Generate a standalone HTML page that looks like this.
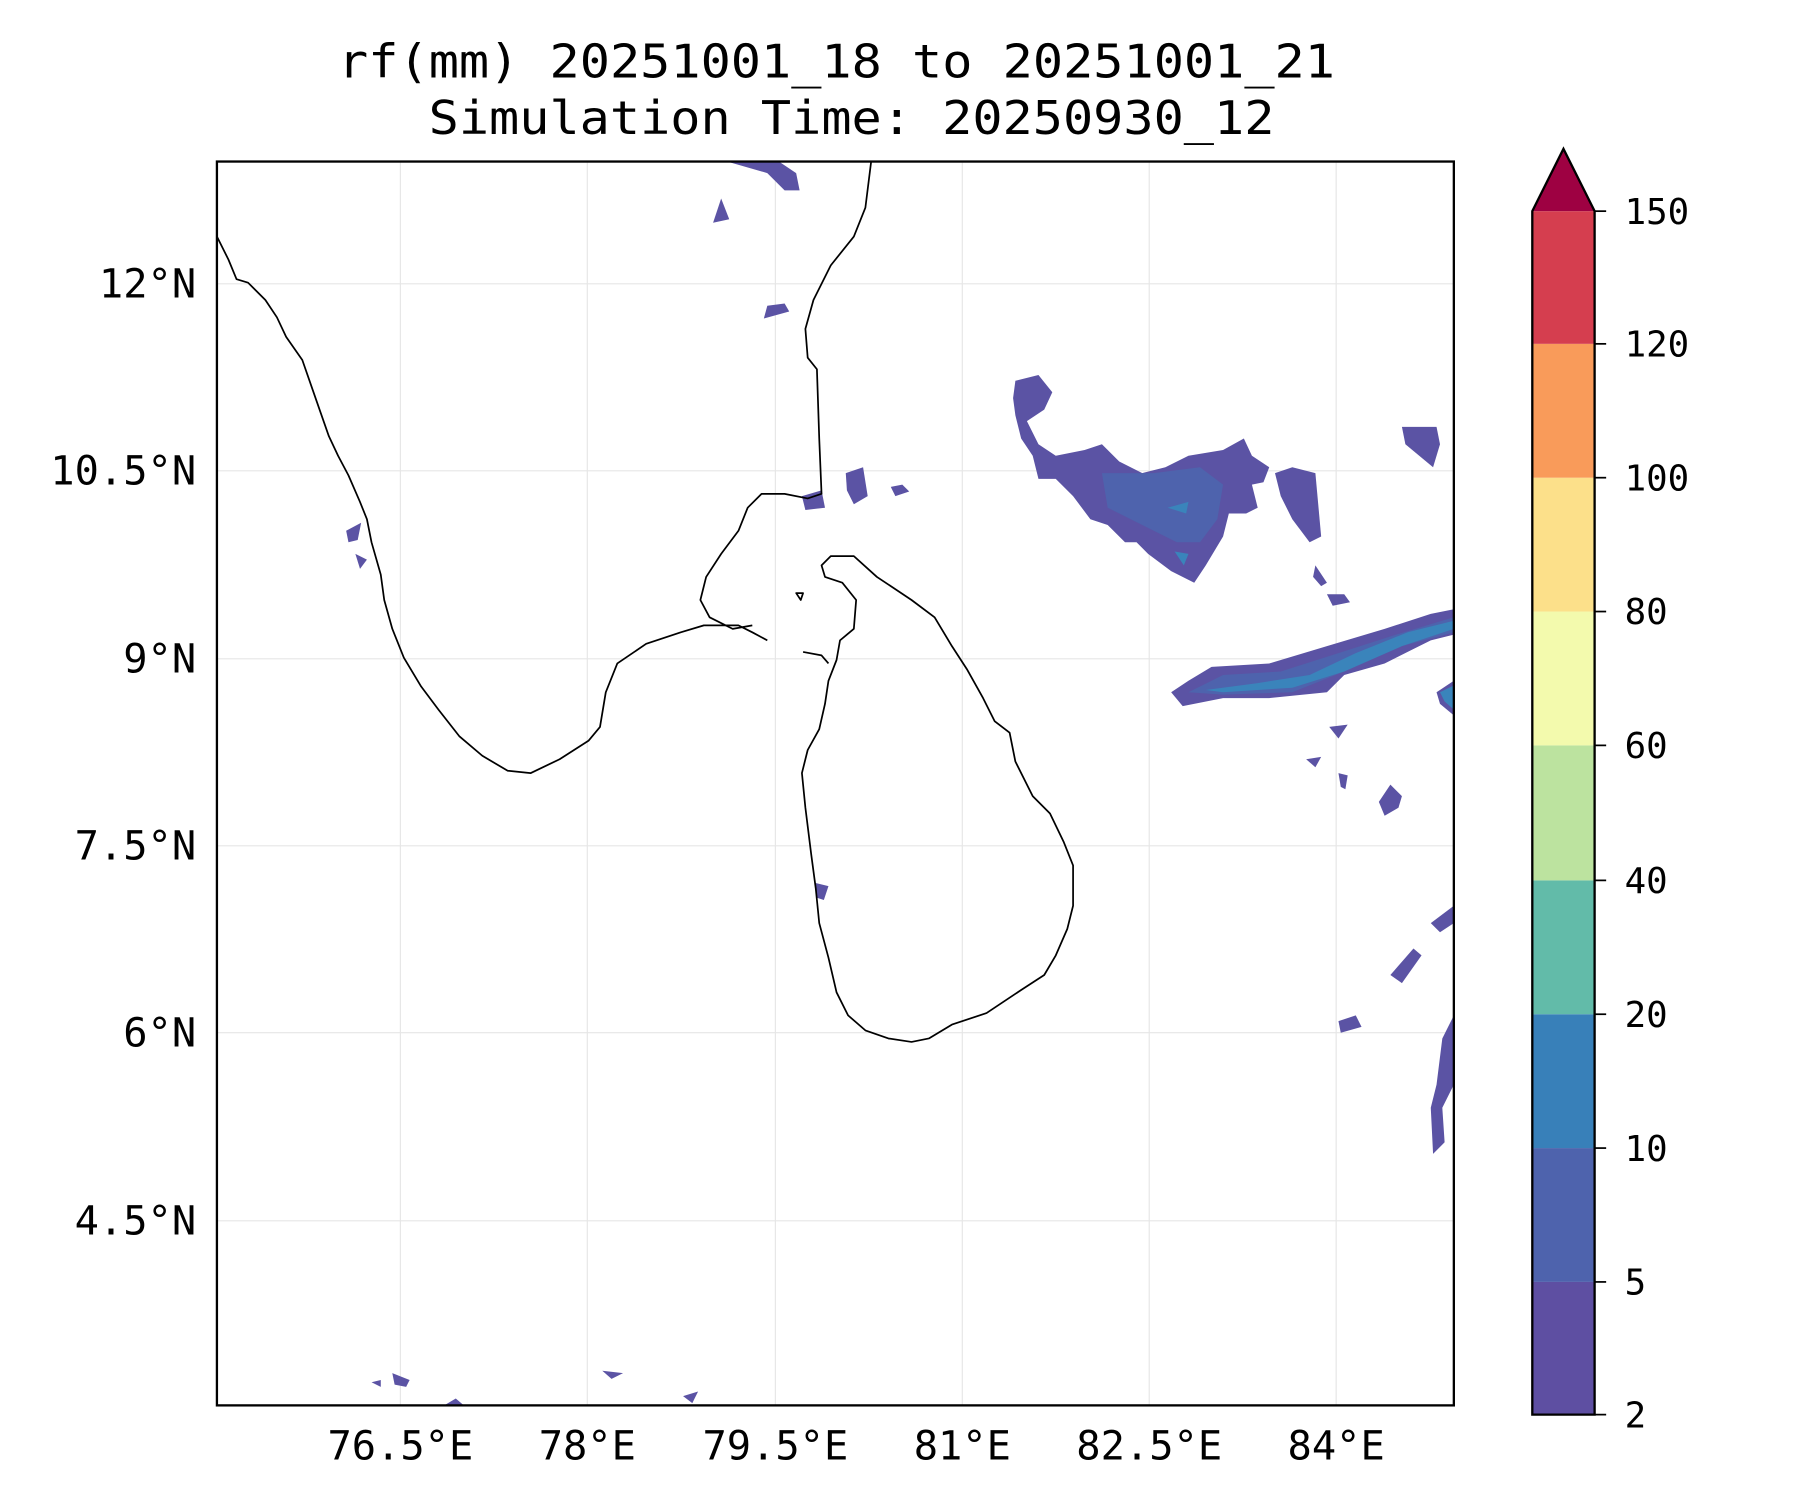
<!DOCTYPE html>
<html><head><meta charset="utf-8"><style>html,body{margin:0;padding:0;background:#fff}svg{display:block}</style></head>
<body>
<svg width="1800" height="1500" viewBox="0 0 1560 1300" xmlns="http://www.w3.org/2000/svg" font-family="'DejaVu Sans Mono','Liberation Mono',monospace">
<rect width="1560" height="1300" fill="#fff"/>
<text x="725" y="67" font-size="40" text-anchor="middle" textLength="864" lengthAdjust="spacingAndGlyphs">rf(mm) 20251001_18 to 20251001_21</text>
<text x="738" y="116" font-size="40" text-anchor="middle" textLength="733" lengthAdjust="spacingAndGlyphs">Simulation Time: 20250930_12</text>
<g stroke="#e6e6e6" stroke-width="1">
<line x1="347" y1="140" x2="347" y2="1218"/><line x1="509" y1="140" x2="509" y2="1218"/><line x1="672" y1="140" x2="672" y2="1218"/><line x1="834" y1="140" x2="834" y2="1218"/><line x1="996" y1="140" x2="996" y2="1218"/><line x1="1158" y1="140" x2="1158" y2="1218"/>
<line x1="188" y1="246" x2="1260" y2="246"/><line x1="188" y1="408" x2="1260" y2="408"/><line x1="188" y1="571" x2="1260" y2="571"/><line x1="188" y1="733" x2="1260" y2="733"/><line x1="188" y1="895" x2="1260" y2="895"/><line x1="188" y1="1058" x2="1260" y2="1058"/>
</g>
<g fill="#5b53a4">
<path d="M880,330 L900,325 L912,340 L905,355 L890,365 L900,385 L915,395 L940,390 L955,385 L970,400 L990,410 L1010,405 L1030,395 L1060,390 L1078,380 L1085,395 L1100,405 L1095,418 L1085,420 L1090,440 L1080,445 L1065,445 L1060,465 L1045,490 L1035,505 L1015,495 L995,480 L985,470 L975,470 L960,455 L945,450 L930,430 L915,415 L900,415 L895,395 L885,380 L880,360 L878,345Z"/>
<path d="M1105,410 L1120,405 L1140,410 L1145,465 L1135,470 L1120,450 L1110,430Z"/>
<path d="M1015,600 L1030,590 L1050,578 L1100,575 L1150,560 L1200,545 L1240,532 L1260,528 L1260,550 L1240,555 L1220,565 L1200,575 L1165,585 L1150,600 L1100,605 L1060,605 L1025,612Z"/>
<path d="M1215,370 L1245,370 L1248,385 L1242,405 L1230,395 L1218,385Z"/>
<path d="M733,410 L748,405 L752,430 L740,437 L734,425Z"/>
<path d="M630,140 L675,140 L690,150 L693,165 L680,165 L665,150Z"/>
<path d="M625,172 L632,190 L618,193Z"/>
<path d="M665,265 L680,263 L684,270 L662,276Z"/>
<path d="M772,422 L782,420 L788,426 L776,430Z"/>
<path d="M1245,600 L1260,590 L1260,620 L1248,610Z"/>
<path d="M1205,680 L1215,690 L1212,700 L1200,707 L1195,695Z"/>
<path d="M1240,800 L1260,785 L1260,800 L1248,808Z"/>
<path d="M1205,845 L1225,822 L1232,828 L1215,852Z"/>
<path d="M1160,885 L1175,880 L1180,890 L1162,895Z"/>
<path d="M1250,900 L1260,880 L1260,940 L1250,960 L1252,990 L1242,1000 L1240,960 L1245,940Z"/>
<path d="M1152,630 L1168,628 L1160,640Z"/>
<path d="M1140,490 L1150,505 L1145,508 L1138,500Z"/>
<path d="M1150,515 L1165,515 L1170,522 L1155,525Z"/>
<path d="M1132,658 L1145,656 L1140,665Z"/>
<path d="M1160,670 L1168,672 L1166,684 L1162,682Z"/>
<path d="M340,1190 L355,1196 L352,1202 L342,1200Z"/>
<path d="M322,1198 L330,1196 L330,1202Z"/>
<path d="M522,1188 L540,1190 L530,1195Z"/>
<path d="M592,1210 L605,1206 L600,1216Z"/>
<path d="M385,1218 L395,1212 L402,1218Z"/>
<path d="M300,460 L313,453 L310,468 L302,470Z"/>
<path d="M308,480 L318,485 L312,493Z"/>
<path d="M706,765 L718,768 L714,780 L708,778Z"/>
<path d="M695,430 L712,425 L715,440 L698,442Z"/>
</g>
<g fill="#4e63ad">
<path d="M955,410 L1000,410 L1040,405 L1060,420 L1055,450 L1040,470 L1020,470 L990,455 L960,440Z"/>
<path d="M1030,600 L1060,585 L1110,582 L1160,566 L1210,550 L1260,535 L1260,548 L1215,560 L1165,582 L1120,600 L1060,602Z"/>
</g>
<g fill="#3a84bb">
<path d="M1045,598 L1090,592 L1135,585 L1175,566 L1220,548 L1260,538 L1260,545 L1215,560 L1165,582 L1120,596 L1060,600Z"/>
<path d="M1248,600 L1260,594 L1260,615 L1252,608Z"/>
<path d="M1012,440 L1030,435 L1028,445Z"/>
<path d="M1018,478 L1030,480 L1026,490Z"/>
</g>
<g fill="none" stroke="#000" stroke-width="1.5" stroke-linejoin="round">
<path d="M188,205 L198,225 L205,242 L215,245 L230,260 L240,275 L248,292 L262,312 L270,335 L278,358 L285,378 L293,395 L302,412 L312,435 L318,450 L322,470 L330,498 L333,520 L340,545 L350,570 L365,595 L380,615 L398,638 L418,655 L440,668 L460,670 L485,658 L510,642 L520,630 L525,600 L535,575 L560,558 L590,548 L610,542 L640,542 L652,548 L665,555"/>
<path d="M652,542 L635,545 L615,535 L607,520 L612,500 L625,480 L640,460 L648,440 L660,428 L680,428 L700,432 L712,428 L710,380 L708,320 L700,310 L698,285 L705,260 L720,230 L740,205 L750,180 L755,140"/>
<path d="M712,490 L720,482 L740,482 L760,500 L790,520 L810,535 L825,560 L838,580 L852,605 L862,625 L875,635 L880,660 L895,690 L910,705 L922,730 L930,750 L930,785 L925,805 L915,828 L905,845 L885,858 L855,878 L825,888 L805,900 L790,903 L770,900 L750,893 L735,880 L725,860 L718,830 L710,800 L707,770 L703,740 L698,700 L695,670 L700,650 L710,632 L715,610 L718,590 L725,572 L728,555 L740,545 L742,520 L730,505 L715,500Z"/>
<path d="M696,565 L712,568 L718,575"/>
<path d="M690,514 L696,514 L694,520Z"/>
</g>
<rect x="188" y="140" width="1072" height="1078" fill="none" stroke="#000" stroke-width="2"/>
<g font-size="35" text-anchor="end">
<text x="170" y="258">12°N</text><text x="170" y="420">10.5°N</text><text x="170" y="583">9°N</text><text x="170" y="745">7.5°N</text><text x="170" y="907">6°N</text><text x="170" y="1070">4.5°N</text>
</g>
<g font-size="35" text-anchor="middle">
<text x="347" y="1265">76.5°E</text><text x="509" y="1265">78°E</text><text x="672" y="1265">79.5°E</text><text x="834" y="1265">81°E</text><text x="996" y="1265">82.5°E</text><text x="1158" y="1265">84°E</text>
</g>
<rect x="1328" y="1111" width="54" height="115" fill="#5e4fa2"/>
<rect x="1328" y="995" width="54" height="116" fill="#4e63ad"/>
<rect x="1328" y="879" width="54" height="116" fill="#3880b9"/>
<rect x="1328" y="763" width="54" height="116" fill="#62bba9"/>
<rect x="1328" y="646" width="54" height="117" fill="#bce39f"/>
<rect x="1328" y="530" width="54" height="116" fill="#f3faad"/>
<rect x="1328" y="414" width="54" height="116" fill="#fce08a"/>
<rect x="1328" y="298" width="54" height="116" fill="#f99b5a"/>
<rect x="1328" y="183" width="54" height="115" fill="#d53e4f"/>
<path d="M1328,183 L1355,129 L1382,183Z" fill="#9e0142"/>
<path d="M1328,1226 L1328,183 L1355,129 L1382,183 L1382,1226Z" fill="none" stroke="#000" stroke-width="2"/>
<g stroke="#000" stroke-width="1.5">
<line x1="1382" y1="183" x2="1392" y2="183"/><line x1="1382" y1="298" x2="1392" y2="298"/><line x1="1382" y1="414" x2="1392" y2="414"/><line x1="1382" y1="530" x2="1392" y2="530"/><line x1="1382" y1="646" x2="1392" y2="646"/><line x1="1382" y1="763" x2="1392" y2="763"/><line x1="1382" y1="879" x2="1392" y2="879"/><line x1="1382" y1="995" x2="1392" y2="995"/><line x1="1382" y1="1111" x2="1392" y2="1111"/><line x1="1382" y1="1226" x2="1392" y2="1226"/>
</g>
<g font-size="31">
<text x="1408" y="194">150</text><text x="1408" y="309">120</text><text x="1408" y="425">100</text><text x="1408" y="541">80</text><text x="1408" y="657">60</text><text x="1408" y="774">40</text><text x="1408" y="890">20</text><text x="1408" y="1006">10</text><text x="1408" y="1122">5</text><text x="1408" y="1237">2</text>
</g>
</svg>
</body></html>
